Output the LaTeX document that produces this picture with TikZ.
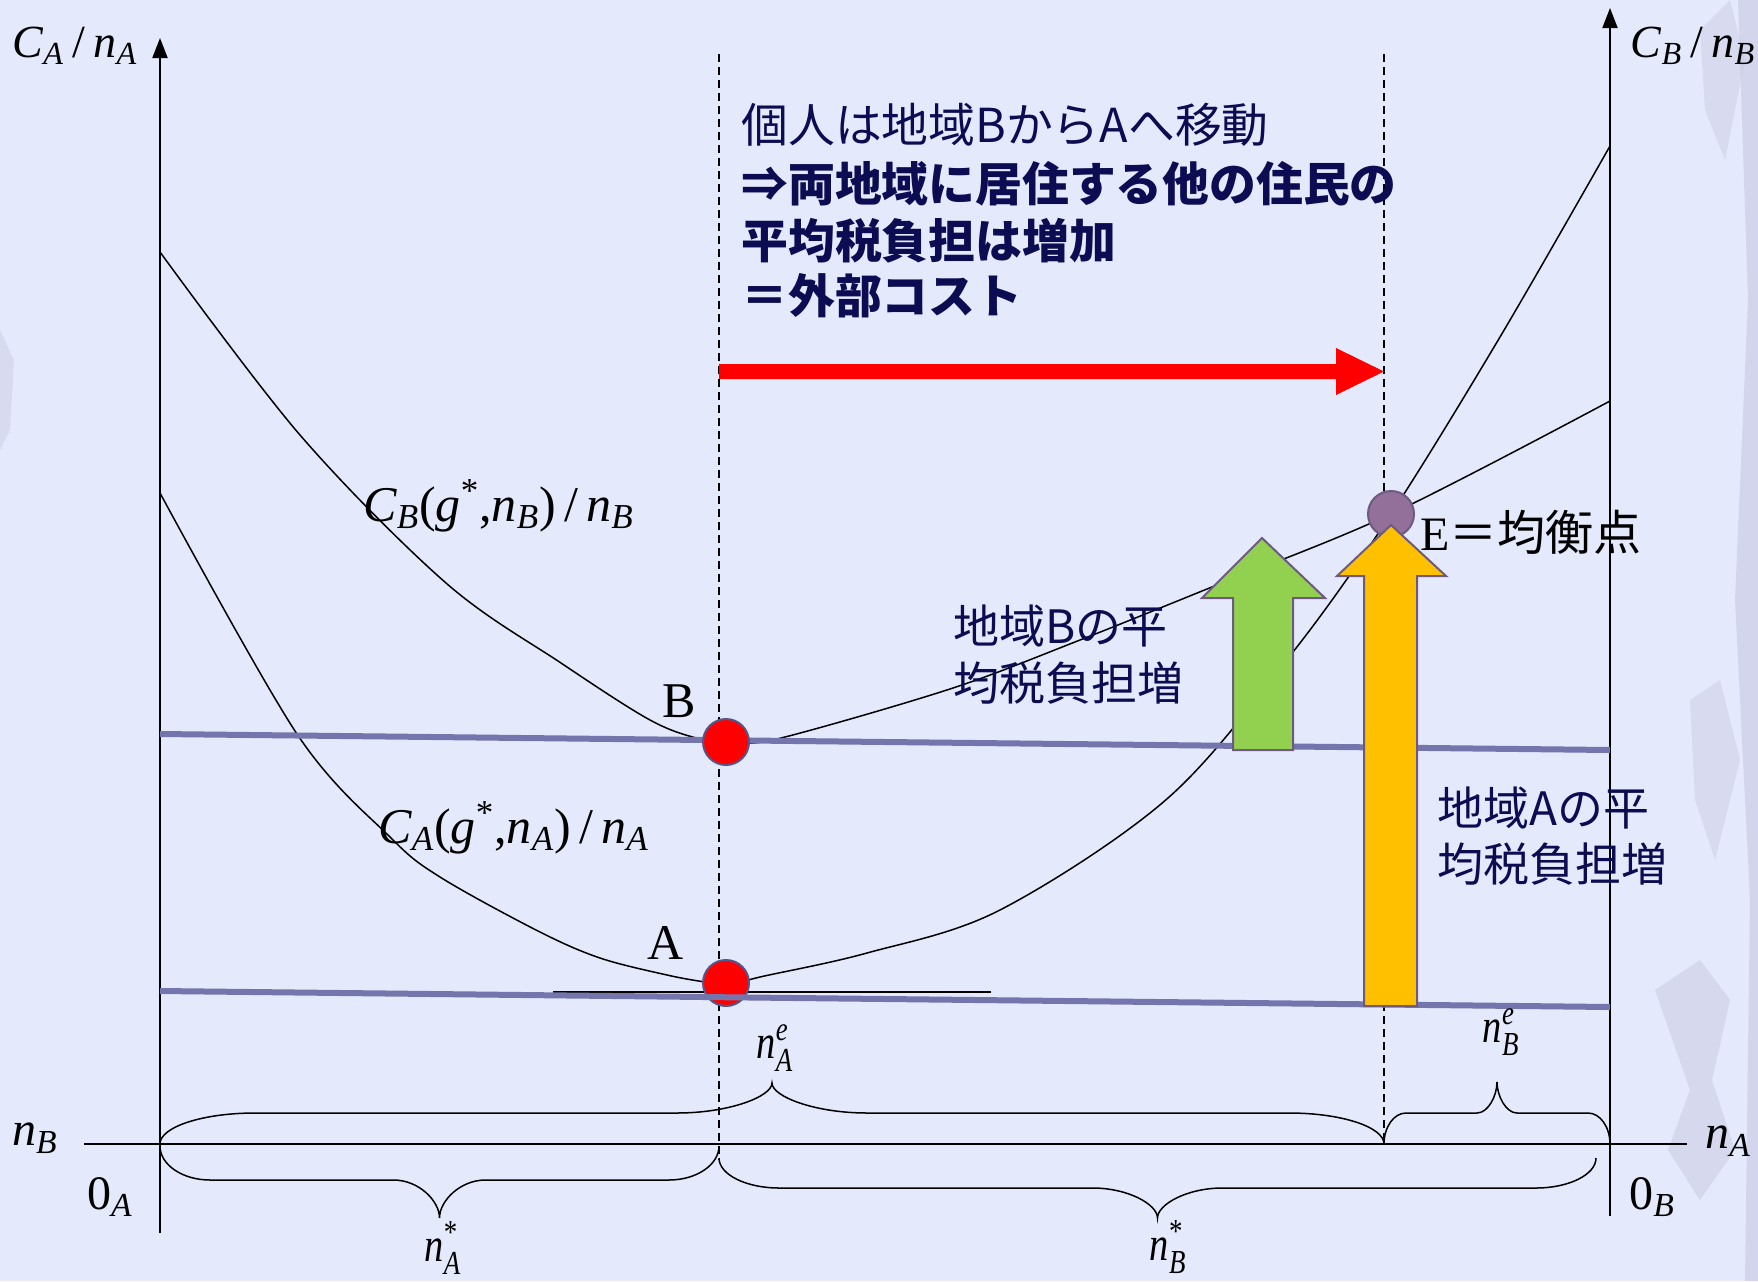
\documentclass[tikz,border=0pt]{standalone}
\usepackage{fontspec}
\usepackage{amsmath}
\usepackage{graphicx}
\setmainfont{Liberation Serif}
\newfontfamily\jp{Noto Sans CJK JP}
\usetikzlibrary{arrows.meta}
\definecolor{bg}{RGB}{228,233,252}
\definecolor{lav}{RGB}{117,117,173}
\definecolor{navy}{RGB}{12,12,82}
\definecolor{dotedge}{RGB}{80,88,140}
\definecolor{edot}{RGB}{147,112,153}
\definecolor{arrowedge}{RGB}{110,90,128}
\definecolor{gfill}{RGB}{146,208,80}
\definecolor{yfill}{RGB}{255,192,0}
\definecolor{deco}{RGB}{205,205,230}
\newcommand\vi[1]{\textit{#1}}
\newcommand\bracepath[7]{%
  \draw[bracestyle] (#1,#3) .. controls (#1,{#3+0.55*(#4-#3)}) and ({#1+0.45*#6},#4) .. ({#1+#6},#4)
   -- ({(#1+#2)/2-#7},#4) .. controls ({(#1+#2)/2-0.45*#7},#4) and ({(#1+#2)/2},{#5-0.45*(#5-#4)}) .. ({(#1+#2)/2},#5)
   .. controls ({(#1+#2)/2},{#5-0.45*(#5-#4)}) and ({(#1+#2)/2+0.45*#7},#4) .. ({(#1+#2)/2+#7},#4)
   -- ({#2-#6},#4) .. controls ({#2-0.45*#6},#4) and (#2,{#3+0.55*(#4-#3)}) .. (#2,#3);}
\tikzset{
  axisline/.style={line width=1pt,black},
  curveline/.style={line width=0.75pt,black},
  dashline/.style={line width=0.6pt,black,dash pattern=on 4pt off 2.5pt},
  lavline/.style={line width=3pt,lav},
  reddot/.style={circle,fill=red,draw=dotedge,line width=1pt,minimum size=23pt,inner sep=0pt},
  edotstyle/.style={circle,fill=edot,draw=arrowedge,line width=1pt,minimum size=23pt,inner sep=0pt},
  bracestyle/.style={line width=0.75pt,black},
  bigarrow/.style={draw=arrowedge,line width=1pt},
  mathlbl/.style={inner sep=0pt,font=\fontsize{23}{26}\selectfont},
  funclbl/.style={inner sep=0pt,font=\fontsize{25}{28}\selectfont,anchor=base west},
  jplbl/.style={inner sep=0pt,anchor=base west,text=navy,font=\jp\fontsize{23}{28}\selectfont},
}
\begin{document}
\begin{tikzpicture}[x=0.5pt,y=-0.5pt]
\useasboundingbox (0,0) rectangle (1758,1281);
\fill[bg] (0,0) rectangle (1758,1281);
% faint background texture
\fill[deco,opacity=0.7] (1738,0) -- (1758,0) -- (1758,1281) -- (1745,1281) -- (1750,900) -- (1735,600) -- (1748,300) -- cycle;
\fill[deco,opacity=0.6] (1655,990) -- (1700,960) -- (1730,1000) -- (1712,1080) -- (1735,1150) -- (1700,1200) -- (1668,1150) -- (1690,1090) -- cycle;
\fill[deco,opacity=0.5] (1700,30) -- (1730,0) -- (1745,60) -- (1725,160) -- (1705,110) -- cycle;
\fill[deco,opacity=0.5] (1690,700) -- (1720,680) -- (1740,760) -- (1715,860) -- (1695,800) -- cycle;
\fill[deco,opacity=0.5] (0,330) -- (14,360) -- (10,430) -- (0,450) -- cycle;
% dashed verticals
\coordinate (dA1) at (719,54); \coordinate (dA2) at (719,1160);
\coordinate (dE1) at (1384,54); \coordinate (dE2) at (1384,1144);
\draw[dashline] (dA1) -- (dA2);
\draw[dashline] (dE1) -- (dE2);
% axes
\coordinate (oA) at (160,1233); \coordinate (tA) at (160,38);
\coordinate (oB) at (1610,1216); \coordinate (tB) at (1610,8);
\coordinate (hL) at (84,1144); \coordinate (hR) at (1687,1144);
\draw[axisline,-{Triangle[length=10pt,width=7.5pt]}] (oA) -- (tA);
\draw[axisline,-{Triangle[length=10pt,width=7.5pt]}] (oB) -- (tB);
\draw[axisline] (hL) -- (hR);
% curves
\draw[curveline] plot[smooth,tension=0.55] coordinates {(160,252) (300,435) (446,583) (561,663) (650,720) (700,739) (735,743) (785,737) (953,688) (1080,640) (1207,589) (1391,514) (1610,401)};
\draw[curveline] plot[smooth,tension=0.55] coordinates {(160,493) (297,734) (390,837) (440,877) (538,931) (600,958) (667,975) (705,982) (730,985) (760,977) (867,953) (1000,910) (1168,798) (1293,652) (1391,514) (1500,337) (1610,146)};
% tangent line at A
\coordinate (tl1) at (553,992); \coordinate (tl2) at (991,992);
\draw[line width=0.75pt] (tl1) -- (tl2);
% dot A below the lavender line
\node[reddot] (dotA) at (726,983) {};
\coordinate (lA1) at (160,991); \coordinate (lA2) at (1610,1007);
\coordinate (lB1) at (160,734); \coordinate (lB2) at (1610,750);
\draw[lavline] (lA1) -- (lA2);
\draw[lavline] (lB1) -- (lB2);
\node[reddot] (dotB) at (726,742) {};
% equilibrium point
\node[edotstyle] (dotE) at (1391,514) {};
% green and yellow arrows
\draw[bigarrow,fill=gfill] (1233,750) -- (1233,598) -- (1202,598) -- (1262,538) -- (1325,598) -- (1293,598) -- (1293,750) -- cycle;
\draw[bigarrow,fill=yfill] (1364,1006) -- (1364,576) -- (1337,576) -- (1391,525) -- (1446,576) -- (1417,576) -- (1417,1006) -- cycle;
% red arrow
\fill[red] (719,364) -- (1336,364) -- (1336,348) -- (1384,371.5) -- (1336,395) -- (1336,379) -- (719,379) -- cycle;
% texts
\node[jplbl,font=\jp\fontsize{23.4}{28}\selectfont] (t1) at (741,142) {個人は地域BからAへ移動};
\node[jplbl,font=\jp\bfseries\fontsize{23.4}{28}\selectfont] (t2) at (741,201) {⇒両地域に居住する他の住民の};
\node[jplbl,font=\jp\bfseries\fontsize{23.4}{28}\selectfont] (t3) at (741,258) {平均税負担は増加};
\node[jplbl,font=\jp\bfseries\fontsize{23.4}{28}\selectfont] (t4) at (741,313) {＝外部コスト};
\node[jplbl] (gb1) at (953,643) {地域Bの平};
\node[jplbl] (gb2) at (953,700) {均税負担増};
\node[jplbl] (ga1) at (1437,825) {地域Aの平};
\node[jplbl] (ga2) at (1437,881) {均税負担増};
\node[inner sep=0pt,anchor=base west,font=\fontsize{24}{28}\selectfont] (elbl) at (1420,550) {E{\jp ＝均衡点}};
\node[inner sep=0pt,font=\fontsize{25}{28}\selectfont] (Blbl) at (679,701) {B};
\node[inner sep=0pt,font=\fontsize{25}{28}\selectfont] (Albl) at (666,943) {A};
% math labels
\node[mathlbl] (yA) at (75,46) {$\vi{C}_{\vi{A}}\,\textup{/}\,\vi{n}_{\vi{A}}$};
\node[mathlbl] (yB) at (1693,46) {$\vi{C}_{\vi{B}}\,\textup{/}\,\vi{n}_{\vi{B}}$};
\node[funclbl] (fB) at (363,521) {$\vi{C}_{\vi{B}}\textup{(}\vi{g}^{\textup{*}}\textup{,}\vi{n}_{\vi{B}}\textup{)}\,\textup{/}\,\vi{n}_{\vi{B}}$};
\node[funclbl] (fA) at (378,843) {$\vi{C}_{\vi{A}}\textup{(}\vi{g}^{\textup{*}}\textup{,}\vi{n}_{\vi{A}}\textup{)}\,\textup{/}\,\vi{n}_{\vi{A}}$};
\node[mathlbl,font=\fontsize{24}{26}\selectfont] (nAe) at (775,1048) {\scalebox{0.8}[1]{$\vi{n}^{\vi{e}}_{\vi{A}}$}};
\node[mathlbl,font=\fontsize{24}{26}\selectfont] (nBe) at (1501,1032) {\scalebox{0.8}[1]{$\vi{n}^{\vi{e}}_{\vi{B}}$}};
\node[mathlbl,font=\fontsize{24}{26}\selectfont] (nAs) at (443,1248) {\scalebox{0.8}[1]{$\vi{n}^{\textup{*}}_{\vi{A}}$}};
\node[mathlbl,font=\fontsize{24}{26}\selectfont] (nBs) at (1168,1247) {\scalebox{0.8}[1]{$\vi{n}^{\textup{*}}_{\vi{B}}$}};
\node[mathlbl,font=\fontsize{24}{26}\selectfont] (nBax) at (35,1138) {$\vi{n}_{\vi{B}}$};
\node[mathlbl,font=\fontsize{24}{26}\selectfont] (nAax) at (1728,1141) {$\vi{n}_{\vi{A}}$};
\node[mathlbl,font=\fontsize{24}{26}\selectfont] (zA) at (110,1197) {$\textup{0}_{\vi{A}}$};
\node[mathlbl,font=\fontsize{24}{26}\selectfont] (zB) at (1652,1197) {$\textup{0}_{\vi{B}}$};
% braces
\bracepath{160}{1384}{1144}{1113}{1083}{95}{95}
\bracepath{1384}{1610}{1144}{1113}{1082}{22}{20}
\bracepath{160}{719}{1146}{1180}{1218}{50}{46}
\bracepath{719}{1596}{1158}{1188}{1218}{60}{65}
\end{tikzpicture}
\end{document}
